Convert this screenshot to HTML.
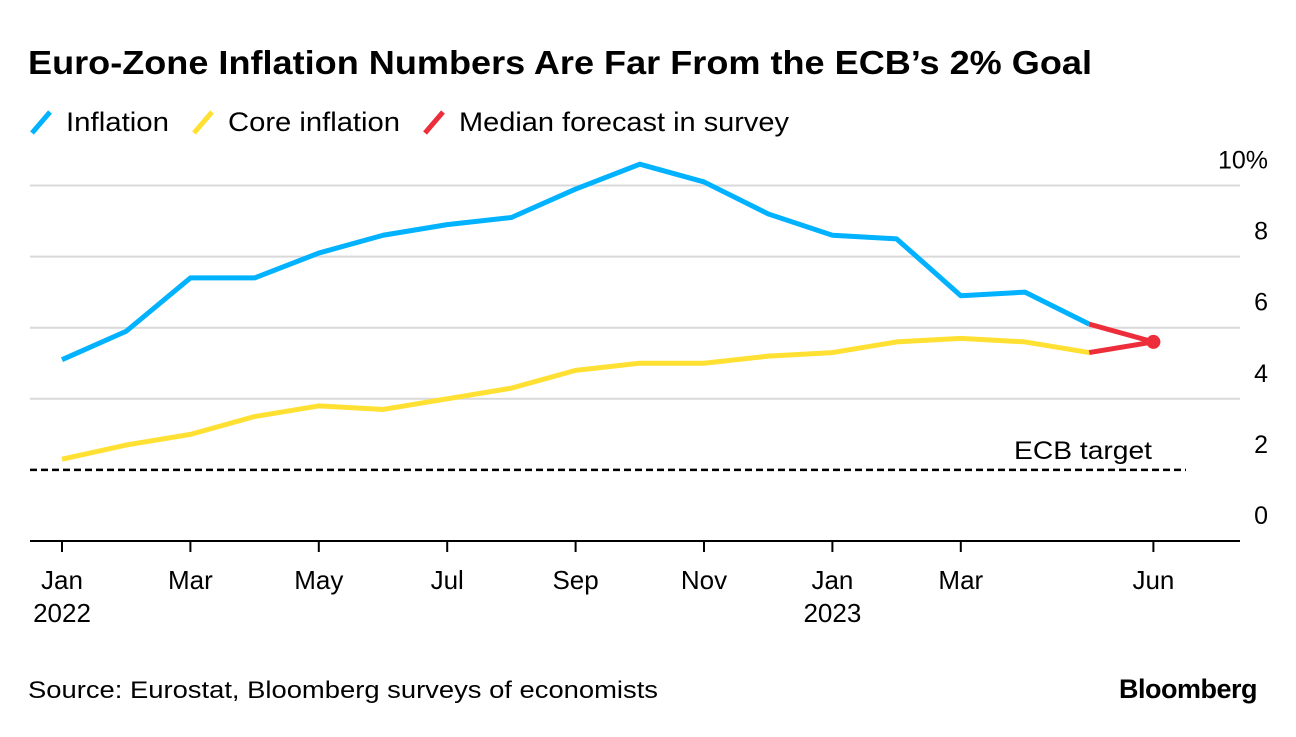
<!DOCTYPE html>
<html><head><meta charset="utf-8"><style>
body{margin:0;background:#fff;width:1296px;height:732px;overflow:hidden;font-family:"Liberation Sans",Arial,sans-serif}
</style></head><body>
<svg id="chart" width="1296" height="732" xmlns="http://www.w3.org/2000/svg" font-family="Liberation Sans, Arial, sans-serif">
<text x="28" y="74" font-size="33" font-weight="bold" fill="#000" textLength="1064" lengthAdjust="spacingAndGlyphs">Euro-Zone Inflation Numbers Are Far From the ECB’s 2% Goal</text>
<g font-size="27" fill="#000">
<line x1="32" y1="133" x2="50" y2="112" stroke="#00b2ff" stroke-width="5"/>
<text x="66" y="131" textLength="103" lengthAdjust="spacingAndGlyphs">Inflation</text>
<line x1="194" y1="133" x2="212" y2="112" stroke="#ffe033" stroke-width="5"/>
<text x="228" y="131" textLength="172" lengthAdjust="spacingAndGlyphs">Core inflation</text>
<line x1="425" y1="133" x2="443" y2="112" stroke="#ee2d3a" stroke-width="5"/>
<text x="459" y="131" textLength="330" lengthAdjust="spacingAndGlyphs">Median forecast in survey</text>
</g>
<g id="grid"></g><g id="series"></g><g id="xaxis"></g>
<text x="1152" y="459" font-size="25" text-anchor="end" textLength="138" lengthAdjust="spacingAndGlyphs">ECB target</text>
<text x="28" y="698" font-size="24" fill="#000" textLength="630" lengthAdjust="spacingAndGlyphs">Source: Eurostat, Bloomberg surveys of economists</text>
<text x="1257" y="698" font-size="27" font-weight="bold" text-anchor="end" letter-spacing="-0.5">Bloomberg</text>
</svg>
<script>
const inflation=[5.1,5.9,7.4,7.4,8.1,8.6,8.9,9.1,9.9,10.6,10.1,9.2,8.6,8.5,6.9,7.0,6.1];
const core=[2.3,2.7,3.0,3.5,3.8,3.7,4.0,4.3,4.8,5.0,5.0,5.2,5.3,5.6,5.7,5.6,5.3];
const forecastHeadline=[6.1,5.6];
const forecastCore=[5.3,5.6];
const yTicks=[0,2,4,6,8,10];
const xTickIdx=[0,2,4,6,8,10,12,14,17];
const xTickLabels=["Jan","Mar","May","Jul","Sep","Nov","Jan","Mar","Jun"];
const yearLabels=[["2022",0],["2023",12]];
const ECB=2;
const NS="http://www.w3.org/2000/svg";
const x=i=>62+i*64.2;
const y=v=>541-35.55*v;
function mk(t,a,p){const e=document.createElementNS(NS,t);for(const k in a)e.setAttribute(k,a[k]);p.appendChild(e);return e;}
const grid=document.getElementById('grid'),ser=document.getElementById('series'),xa=document.getElementById('xaxis');
yTicks.forEach(v=>{
 if(v>0&&v!==ECB){const l=mk('line',{x1:30,x2:1240,y1:y(v),y2:y(v),stroke:'#d9d9d9','stroke-width':2},grid);
 
 }
 const t=mk('text',{x:1268,y:y(v)-17,'font-size':25,'text-anchor':'end'},grid);t.textContent=v===10?'10%':v;
 
 
});
const tl=mk('line',{x1:30,x2:1186,y1:y(ECB),y2:y(ECB),stroke:'#000','stroke-width':2.5,'stroke-dasharray':'7,4'},grid);


const base=mk('line',{x1:30,x2:1240,y1:y(0),y2:y(0),stroke:'#000','stroke-width':2},grid);


function line(arr,off,col,name){const p=mk('polyline',{points:arr.map((v,i)=>x(i+off)+','+y(v)).join(' '),fill:'none',stroke:col,'stroke-width':5,'stroke-linejoin':'round'},ser);
 
 }
line(core,0,'#ffe033','core-inflation-line');
line(inflation,0,'#00b2ff','inflation-line');
line(forecastHeadline,16,'#ee2d3a','forecast-headline-line');
line(forecastCore,16,'#ee2d3a','forecast-core-line');
const d=mk('circle',{cx:x(17),cy:y(forecastHeadline[1]),r:7,fill:'#ee2d3a'},ser);


xTickIdx.forEach((i,k)=>{
 mk('line',{x1:x(i),x2:x(i),y1:y(0),y2:y(0)+11,stroke:'#000','stroke-width':2},xa);
 const t=mk('text',{x:x(i),y:589,'font-size':26,'text-anchor':'middle'},xa);t.textContent=xTickLabels[k];
 
 
});
yearLabels.forEach(([s,i])=>{const t=mk('text',{x:x(i),y:622,'font-size':26,'text-anchor':'middle'},xa);t.textContent=s;
 
 });
</script>
</body></html>
